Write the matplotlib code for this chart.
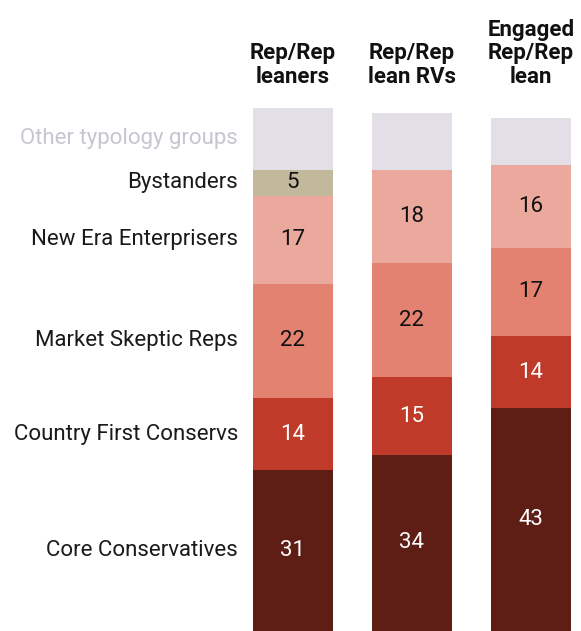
import matplotlib.pyplot as plt

columns = ["Rep/Rep\nleaners", "Rep/Rep\nlean RVs", "Engaged\nRep/Rep\nlean"]
groups = ["Core Conservatives", "Country First Conservs", "Market Skeptic Reps",
          "New Era Enterprisers", "Bystanders", "Other typology groups"]
core = [31, 34, 43]
country_first = [14, 15, 14]
market_skeptic = [22, 22, 17]
new_era = [17, 18, 16]
bystanders = [5, 0, 0]
other = [12, 11, 9]

colors = ["#5e1e15", "#bf3a28", "#e38270", "#eba89c", "#c2b99c", "#e2e0e6"]
text_colors = ["white", "white", "#111111", "#111111", "#111111", None]

plt.rcParams['font.family'] = ['Roboto', 'DejaVu Sans']

W, H = 581, 631
fig = plt.figure(figsize=(W / 100, H / 100), dpi=100)
ax = fig.add_axes([233.4 / W, 0, (W - 233.4) / W, 518 / H])
ax.set_xlim(-0.5, -0.5 + (W - 233.4) / 119.0)
ax.set_ylim(0, 100)
ax.axis('off')

series = [core, country_first, market_skeptic, new_era, bystanders, other]
x = [0, 1, 2]
bottom = [0, 0, 0]
for k, vals in enumerate(series):
    ax.bar(x, vals, bottom=bottom, width=0.667, color=colors[k], clip_on=False)
    for i in range(3):
        if vals[i] > 0 and text_colors[k] is not None:
            ax.text(x[i], bottom[i] + vals[i] / 2, str(vals[i]), ha='center', va='center',
                    fontsize=16, color=text_colors[k])
    # category label next to first bar
    lc = "#c8c5d0" if k == 5 else "#1a1a1a"
    ax.text(-0.46, bottom[0] + vals[0] / 2, groups[k], ha='right', va='center',
            fontsize=16, color=lc)
    bottom = [b + v for b, v in zip(bottom, vals)]

for i, c in enumerate(columns):
    fig.text((293 + 119.0 * i) / W, 1 - 83 / H, c, ha='center', va='baseline',
             fontsize=16, fontweight='bold', color='#111111', linespacing=1.1)

fig.savefig("out.png", dpi=100)
